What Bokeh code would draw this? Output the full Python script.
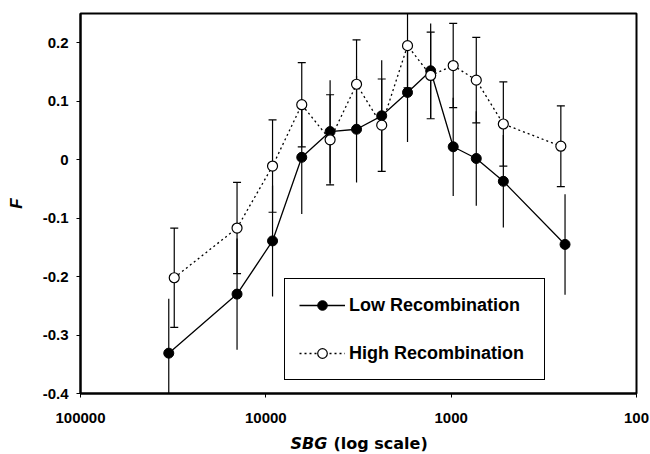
from bokeh.plotting import figure
from bokeh.layouts import column
from bokeh.models import (Range1d, FixedTicker, ColumnDataSource, Whisker, TeeHead,
                          Legend, LegendItem, Label)
from bokeh.embed import file_html
from bokeh.resources import INLINE

# ---- data ----
sbg_low = [33400, 14300, 9200, 6400, 4500, 3240, 2370, 1720, 1290, 975, 732, 523, 243]
f_low = [-0.331, -0.230, -0.139, 0.004, 0.048, 0.052, 0.075, 0.115, 0.152, 0.022, 0.002, -0.037, -0.145]
err_low = [0.093, 0.095, 0.095, 0.097, 0.088, 0.091, 0.095, 0.085, 0.081, 0.084, 0.081, 0.079, 0.086]

sbg_high = [31200, 14300, 9200, 6400, 4500, 3240, 2370, 1720, 1290, 975, 732, 523, 256]
f_high = [-0.202, -0.117, -0.011, 0.094, 0.034, 0.129, 0.059, 0.195, 0.144, 0.161, 0.136, 0.061, 0.023]
err_high = [0.085, 0.078, 0.079, 0.072, 0.077, 0.076, 0.079, 0.072, 0.074, 0.072, 0.073, 0.072, 0.069]

x_ticks = [100000, 10000, 1000, 100]
x_tick_labels = ["100000", "10000", "1000", "100"]
y_ticks = [-0.4, -0.3, -0.2, -0.1, 0, 0.1, 0.2]
y_tick_labels = ["-0.4", "-0.3", "-0.2", "-0.1", "0", "0.1", "0.2"]

series_names = ["Low Recombination", "High Recombination"]
x_label_parts = ["SBG", "(log scale)"]
y_label = "F"

FONT = "Liberation Sans"

src_low = ColumnDataSource(dict(
    x=sbg_low, y=f_low,
    upper=[f + e for f, e in zip(f_low, err_low)],
    lower=[f - e for f, e in zip(f_low, err_low)]))
src_high = ColumnDataSource(dict(
    x=sbg_high, y=f_high,
    upper=[f + e for f, e in zip(f_high, err_high)],
    lower=[f - e for f, e in zip(f_high, err_high)]))

p = figure(width=650, height=432, x_axis_type="log",
           x_range=Range1d(100000, 100), y_range=Range1d(-0.4, 0.25),
           output_backend="svg", toolbar_location=None,
           min_border_left=80, min_border_right=14, min_border_top=13,
           min_border_bottom=39, background_fill_color="white",
           border_fill_color="white")

p.xgrid.visible = False
p.ygrid.visible = False
p.outline_line_color = "black"
p.outline_line_width = 2
p.outline_line_alpha = 1

# axes
p.xaxis.ticker = FixedTicker(ticks=x_ticks, minor_ticks=[])
p.xaxis.major_label_overrides = {t: l for t, l in zip(x_ticks, x_tick_labels)}
p.yaxis.ticker = FixedTicker(ticks=y_ticks, minor_ticks=[])
p.yaxis.major_label_overrides = {t: l for t, l in zip(y_ticks, y_tick_labels)}
for ax in (p.xaxis, p.yaxis):
    ax.axis_line_color = "black"
    ax.axis_line_width = 2
    ax.major_tick_line_color = "black"
    ax.major_tick_line_width = 1
    ax.major_tick_out = 4
    ax.major_tick_in = 0
    ax.minor_tick_line_color = None
    ax.major_label_text_font = FONT
    ax.major_label_text_font_style = "bold"
    ax.major_label_text_font_size = "15px"
    ax.major_label_text_color = "black"
p.xaxis.major_label_standoff = 15
p.yaxis.major_label_standoff = 8

p.yaxis.axis_label = y_label
p.yaxis.axis_label_text_font = FONT
p.yaxis.axis_label_text_font_style = "bold italic"
p.yaxis.axis_label_text_font_size = "17px"
p.yaxis.axis_label_text_color = "black"
p.yaxis.axis_label_standoff = 14

# error bars
p.segment(x0="x", y0="lower", x1="x", y1="upper", source=src_low,
          line_color="black", line_width=1.2)
wh = Whisker(source=src_high, base="x", upper="upper", lower="lower",
             dimension="height", line_color="black", line_width=1.2,
             upper_head=TeeHead(size=8, line_color="black", line_width=1.2),
             lower_head=TeeHead(size=8, line_color="black", line_width=1.2))
p.add_layout(wh)

# series
l_low = p.line("x", "y", source=src_low, line_color="black", line_width=1.3)
m_low = p.scatter("x", "y", source=src_low, size=10, marker="circle",
                  fill_color="black", line_color="black", line_width=1)
l_high = p.line("x", "y", source=src_high, line_color="black", line_width=1.3,
                line_dash="2 3")
m_high = p.scatter("x", "y", source=src_high, size=10, marker="circle",
                   fill_color="white", line_color="black", line_width=1.2)

legend = Legend(items=[LegendItem(label=series_names[0], renderers=[l_low, m_low]),
                       LegendItem(label=series_names[1], renderers=[l_high, m_high])],
                location=(204, 13), orientation="vertical",
                padding=14, spacing=24, glyph_width=46, glyph_height=24,
                label_height=24, label_width=181, label_standoff=4,
                label_text_font=FONT, label_text_font_style="bold",
                label_text_font_size="18px", label_text_color="black",
                label_text_baseline="middle",
                border_line_color="black", border_line_width=1,
                border_line_alpha=1, background_fill_color="white",
                background_fill_alpha=1, margin=0)
p.add_layout(legend)

# strip below the chart carrying the mixed-style x-axis title
# (its frame is aligned with the main frame: 80..636 px horizontally)
p2 = figure(width=650, height=22, x_range=Range1d(80, 636), y_range=Range1d(0, 22),
            output_backend="svg", toolbar_location=None,
            x_axis_location=None, y_axis_location=None,
            min_border_left=80, min_border_right=14, min_border_top=0,
            min_border_bottom=0, background_fill_color="white",
            border_fill_color="white")
p2.xgrid.visible = False
p2.ygrid.visible = False
p2.outline_line_color = None
p2.add_layout(Label(x=290, y=11, text=x_label_parts[0], text_font="DejaVu Sans",
                    text_font_style="bold italic", text_font_size="16px",
                    text_color="black", text_align="left", text_baseline="middle"))
p2.add_layout(Label(x=333, y=11, text=x_label_parts[1], text_font="DejaVu Sans",
                    text_font_style="bold", text_font_size="16px",
                    text_color="black", text_align="left", text_baseline="middle"))

layout = column(p, p2, spacing=0)
open("out.html", "w").write(file_html(layout, INLINE))
